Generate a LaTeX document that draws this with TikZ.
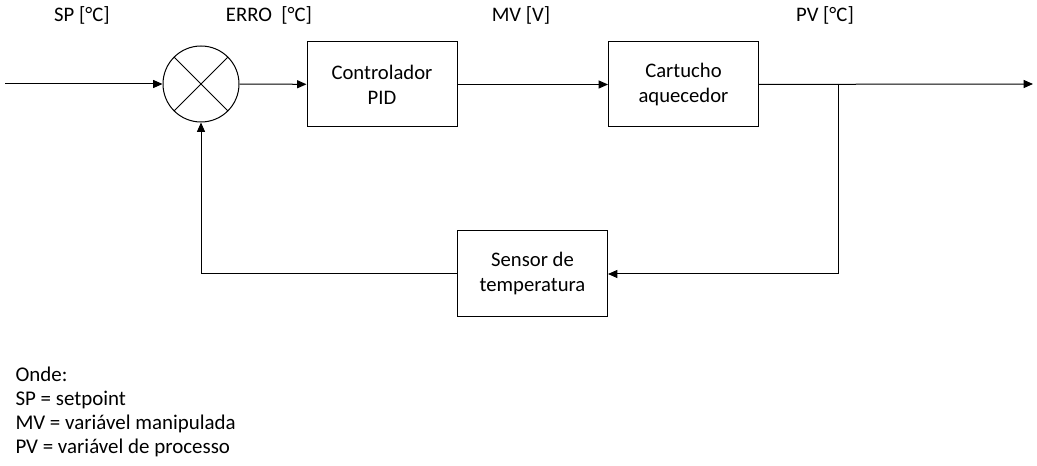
\documentclass[tikz,border=0pt]{standalone}
\usepackage{fontspec}
\setmainfont{Carlito}
\usetikzlibrary{arrows.meta}

\tikzset{
  blk/.style={draw, minimum width=112.5pt, minimum height=63.75pt, align=center, inner sep=0},
  sig/.style={-{Triangle[length=7pt,width=6pt]}},
  lbl/.style={inner sep=0}
}

\begin{document}
\begin{tikzpicture}[x=0.75pt, y=-0.75pt, line width=0.75pt,
    font=\fontsize{15.5}{19}\selectfont]
  \useasboundingbox (0, 0) rectangle (1037, 466);

  % blocks
  \node[draw, circle, minimum size=57pt, inner sep=0] (sum) at (201, 84) {};
  \draw[line width=0.6pt] (sum.45) -- (sum.225);
  \draw[line width=0.6pt] (sum.135) -- (sum.315);
  \node[blk] (pid) at (382, 84.5) {Controlador\\PID};
  \node[blk] (heat) at (683.5, 84.5) {Cartucho\\aquecedor};
  \node[blk] (sens) at (532.5, 273.5) {Sensor de\\temperatura};

  \coordinate (in) at (5, 84);
  \coordinate (out) at (1033, 84);
  \coordinate (tap) at (838, 84);
  \coordinate (low) at (838, 274);
  \coordinate (back) at (201, 274);

  % signals
  \draw[sig] (in) -- (sum);
  \draw[sig] (sum) -- (pid);
  \draw[sig] (pid) -- (heat);
  \draw[sig] (heat) -- (out);
  \draw[sig] (tap) -- (low) -- (sens.east |- low);
  \draw[sig] (sens.west |- back) -- (back) -- (sum);

  % labels
  \node[lbl] (lsp) at (82, 15) {SP [°C]};
  \node[lbl] (lerr) at (269, 15) {ERRO\ \ [°C]};
  \node[lbl] (lmv) at (521, 15) {MV [V]};
  \node[lbl] (lpv) at (825, 15) {PV [°C]};

  \node[lbl, anchor=north west, align=left, font=\fontsize{15.7}{18}\selectfont]
    (legend) at (15, 366) {Onde:\\SP = setpoint\\MV = variável manipulada\\PV = variável de processo};
\end{tikzpicture}
\end{document}
